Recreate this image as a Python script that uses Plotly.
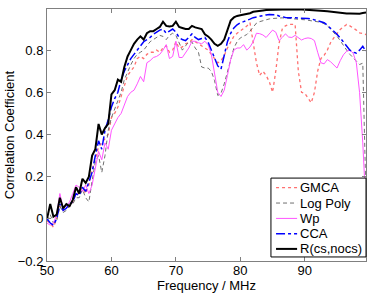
import numpy as np
import plotly.graph_objects as go

freq = [50 + 0.5 * i for i in range(100)]

gmca = [-0.01, -0.02, -0.04, 0.00, 0.06, 0.04, 0.05, 0.06, 0.08, 0.12,
        0.12, 0.15, 0.12, 0.16, 0.23, 0.28, 0.34, 0.36, 0.38, 0.40,
        0.48, 0.50, 0.53, 0.58, 0.63, 0.68, 0.70, 0.72, 0.76, 0.77,
        0.76, 0.78, 0.79, 0.79, 0.80, 0.79, 0.81, 0.82, 0.79, 0.80,
        0.84, 0.81, 0.815, 0.83, 0.835, 0.85, 0.84, 0.83, 0.82, 0.81,
        0.80, 0.78, 0.76, 0.74, 0.75, 0.775, 0.81, 0.84, 0.866, 0.88,
        0.89, 0.90, 0.914, 0.93, 0.84, 0.74, 0.68, 0.70, 0.68, 0.65,
        0.60, 0.70, 0.83, 0.90, 0.915, 0.922, 0.922, 0.922, 0.70, 0.60,
        0.595, 0.575, 0.55, 0.60, 0.70, 0.76, 0.775, 0.80, 0.835, 0.858,
        0.88, 0.898, 0.91, 0.922, 0.915, 0.906, 0.895, 0.882, 0.878, 0.874]

logpoly = [-0.01, 0.02, -0.02, -0.01, 0.06, 0.03, 0.04, 0.06, 0.07, 0.10,
           0.10, 0.14, 0.10, 0.08, 0.18, 0.27, 0.30, 0.22, 0.30, 0.42,
           0.48, 0.52, 0.56, 0.60, 0.66, 0.70, 0.73, 0.76, 0.78, 0.79,
           0.80, 0.82, 0.84, 0.85, 0.86, 0.87, 0.865, 0.85, 0.87, 0.88,
           0.87, 0.83, 0.80, 0.82, 0.84, 0.838, 0.81, 0.79, 0.72, 0.715,
           0.715, 0.70, 0.655, 0.585, 0.595, 0.64, 0.70, 0.76, 0.81, 0.84,
           0.858, 0.866, 0.874, 0.89, 0.91, 0.928, 0.935, 0.94, 0.945, 0.948,
           0.95, 0.952, 0.954, 0.953, 0.952, 0.95, 0.95, 0.948, 0.947, 0.945,
           0.944, 0.942, 0.94, 0.939, 0.937, 0.932, 0.925, 0.915, 0.90, 0.885,
           0.866, 0.845, 0.82, 0.80, 0.78, 0.763, 0.745, 0.732, 0.738, 0.10]

wp = [-0.02, -0.03, -0.02, 0.02, 0.12, 0.05, 0.06, 0.08, 0.12, 0.16,
      0.15, 0.13, 0.16, 0.12, 0.16, 0.24, 0.32, 0.28, 0.36, 0.33,
      0.42, 0.45, 0.48, 0.50, 0.54, 0.58, 0.60, 0.61, 0.64, 0.675,
      0.65, 0.74, 0.75, 0.765, 0.77, 0.78, 0.80, 0.826, 0.76, 0.77,
      0.842, 0.765, 0.765, 0.785, 0.81, 0.842, 0.842, 0.835, 0.83, 0.842,
      0.825, 0.78, 0.68, 0.60, 0.58, 0.61, 0.68, 0.755, 0.80, 0.81,
      0.81, 0.826, 0.80, 0.815, 0.84, 0.88, 0.878, 0.872, 0.86, 0.88,
      0.895, 0.885, 0.845, 0.86, 0.877, 0.862, 0.86, 0.87, 0.858, 0.848,
      0.855, 0.858, 0.855, 0.845, 0.79, 0.74, 0.735, 0.755, 0.745, 0.73,
      0.715, 0.75, 0.778, 0.795, 0.80, 0.786, 0.74, 0.60, 0.36, 0.05]

cca = [0.00, -0.02, -0.03, 0.00, 0.07, 0.04, 0.05, 0.07, 0.08, 0.12,
       0.11, 0.15, 0.13, 0.17, 0.22, 0.30, 0.37, 0.33, 0.42, 0.47,
       0.53, 0.57, 0.60, 0.66, 0.70, 0.73, 0.76, 0.78, 0.80, 0.82,
       0.84, 0.85, 0.86, 0.875, 0.885, 0.895, 0.90, 0.88, 0.89, 0.90,
       0.885, 0.86, 0.85, 0.845, 0.86, 0.877, 0.86, 0.85, 0.855, 0.86,
       0.838, 0.80, 0.76, 0.725, 0.71, 0.77, 0.84, 0.88, 0.905, 0.92,
       0.93, 0.935, 0.94, 0.947, 0.954, 0.958, 0.962, 0.965, 0.967, 0.969,
       0.97, 0.968, 0.962, 0.958, 0.955, 0.954, 0.955, 0.954, 0.952, 0.952,
       0.95, 0.95, 0.948, 0.944, 0.94, 0.937, 0.93, 0.918, 0.905, 0.89,
       0.875, 0.858, 0.84, 0.82, 0.80, 0.79, 0.786, 0.80, 0.818, 0.794]

rcs = [0.00, 0.07, 0.01, 0.02, 0.10, 0.05, 0.07, 0.06, 0.09, 0.15,
       0.12, 0.19, 0.17, 0.20, 0.30, 0.33, 0.45, 0.40, 0.43, 0.45,
       0.59, 0.61, 0.66, 0.65, 0.72, 0.77, 0.80, 0.83, 0.85, 0.865,
       0.85, 0.88, 0.89, 0.89, 0.90, 0.91, 0.935, 0.915, 0.912, 0.915,
       0.935, 0.91, 0.905, 0.90, 0.90, 0.915, 0.908, 0.905, 0.90, 0.875,
       0.865, 0.85, 0.83, 0.82, 0.83, 0.85, 0.89, 0.94, 0.955, 0.962,
       0.965, 0.968, 0.97, 0.975, 0.982, 0.985, 0.987, 0.988, 0.99, 0.99,
       0.992, 0.992, 0.993, 0.993, 0.994, 0.993, 0.994, 0.993, 0.994, 0.993,
       0.993, 0.993, 0.993, 0.992, 0.99, 0.988, 0.986, 0.984, 0.982, 0.98,
       0.978, 0.977, 0.975, 0.974, 0.974, 0.973, 0.973, 0.973, 0.976, 0.978]

series = [
    ("GMCA", gmca, dict(color="#ff7070", width=1.3, dash="dot")),
    ("Log Poly", logpoly, dict(color="#707070", width=1.0, dash="4px,3px")),
    ("Wp", wp, dict(color="#ff55ff", width=1.0)),
    ("CCA", cca, dict(color="#0000ff", width=1.5, dash="dashdot")),
    ("R(cs,nocs)", rcs, dict(color="#000000", width=2.0)),
]

fig = go.Figure()
for name, vals, line in series:
    fig.add_trace(go.Scatter(x=freq, y=vals, mode="lines", name=name, line=line,
                             showlegend=False))

# legend box drawn in paper coordinates (MATLAB-style compact legend)
leg_x0, leg_x1, leg_y0, leg_y1 = 0.702, 1.0, 0.016, 0.329
row_y = [0.291, 0.230, 0.169, 0.108, 0.048]
fig.add_shape(type="rect", xref="paper", yref="paper", x0=leg_x0, x1=leg_x1,
              y0=leg_y0, y1=leg_y1, fillcolor="white",
              line=dict(color="black", width=1), layer="above")
for (name, vals, line), ry in zip(series, row_y):
    fig.add_shape(type="line", xref="paper", yref="paper", x0=0.718, x1=0.784,
                  y0=ry, y1=ry, line=line, layer="above")
    fig.add_annotation(x=0.788, y=ry, xref="paper", yref="paper", text=name,
                       showarrow=False, xanchor="left", yanchor="middle",
                       font=dict(size=13, color="black"))

axis_common = dict(
    showline=True, linecolor="#808080", linewidth=1, mirror="ticks",
    ticks="inside", ticklen=4, tickcolor="#808080", showgrid=False, zeroline=False,
    tickfont=dict(size=13, color="black"),
)

fig.update_layout(
    width=371, height=293,
    margin=dict(l=47, r=5, t=9, b=32),
    paper_bgcolor="white", plot_bgcolor="white",
    font=dict(family="Liberation Sans, Arial, sans-serif", size=13, color="black"),
    xaxis=dict(range=[50, 99.5], tickvals=[50, 60, 70, 80, 90],
               ticklabelstandoff=-3,
               title=dict(text="Frequency / MHz", standoff=0, font=dict(size=13)),
               **axis_common),
    yaxis=dict(range=[-0.2, 0.995], tickvals=[-0.2, 0, 0.2, 0.4, 0.6, 0.8],
               ticktext=["\u22120.2", "0", "0.2", "0.4", "0.6", "0.8"],
               title=dict(text="Correlation Coefficient", standoff=0, font=dict(size=13)),
               **axis_common),
    showlegend=False,
)

fig.write_html("out.html", config={"displayModeBar": False},
               post_script="document.body.style.margin='0';document.body.style.overflow='hidden';")
